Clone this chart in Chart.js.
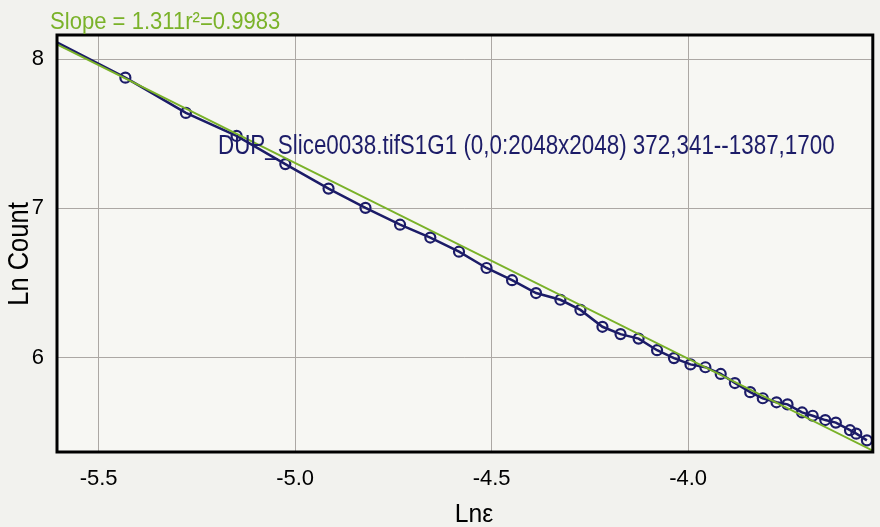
<!DOCTYPE html>
<html>
<head>
<meta charset="utf-8">
<title>Ln Count vs Ln ε</title>
<script src="https://cdn.jsdelivr.net/npm/chart.js@4.4.1/dist/chart.umd.min.js"></script>
<style>
  html, body { margin: 0; padding: 0; background: #f2f2ee; }
  #wrap { width: 880px; height: 527px; }
</style>
</head>
<body>
<div id="wrap"><canvas id="plot" width="880" height="527"></canvas></div>
<script>
// Box-counting results: ln(box size) against ln(count)
const LN_EPS = [-5.620, -5.432, -5.278, -5.149, -5.025, -4.915, -4.821, -4.733, -4.656, -4.583,
                -4.513, -4.448, -4.387, -4.325, -4.274, -4.218, -4.172, -4.126, -4.079, -4.036,
                -3.994, -3.956, -3.917, -3.881, -3.842, -3.810, -3.775, -3.747, -3.710, -3.683,
                -3.651, -3.624, -3.588, -3.572, -3.545];
const LN_COUNT = [8.130, 7.875, 7.639, 7.485, 7.296, 7.132, 7.003, 6.890, 6.804, 6.709,
                  6.600, 6.518, 6.432, 6.387, 6.319, 6.206, 6.157, 6.127, 6.049, 5.996,
                  5.954, 5.935, 5.890, 5.829, 5.768, 5.727, 5.700, 5.686, 5.632, 5.610,
                  5.581, 5.564, 5.513, 5.490, 5.445];

// Axis ticks and visible ranges
const X_TICKS = [-5.5, -5.0, -4.5, -4.0];
const Y_TICKS = [6, 7, 8];
const X_RANGE = [-5.606, -3.530];
const Y_RANGE = [5.367, 8.161];

// Regression line
const FIT_SLOPE = -1.311;
const FIT_INTERCEPT = 0.748;
const R_SQUARED = 0.9983;

const SOURCE_LABEL = 'DUP_Slice0038.tifS1G1 (0,0:2048x2048) 372,341--1387,1700';
const X_TITLE = 'Lnε';
const Y_TITLE = 'Ln Count';

const SANS = '"Liberation Sans", Arial, sans-serif';
const NAVY = '#1c1c68';
const GREEN = '#7ab229';

const points = LN_EPS.map((x, i) => ({ x, y: LN_COUNT[i] }));
const fitLine = X_RANGE.map(x => ({ x, y: FIT_SLOPE * x + FIT_INTERCEPT }));

// Draw a string squeezed along its own direction (the labels use a condensed face)
function condensedText(ctx, text, x, y, size, squeeze, opts = {}) {
  ctx.save();
  ctx.translate(x, y);
  if (opts.rotate) ctx.rotate(opts.rotate);
  ctx.scale(squeeze, 1);
  ctx.font = size + 'px ' + SANS;
  ctx.fillStyle = opts.color || '#000';
  ctx.textAlign = opts.align || 'left';
  ctx.textBaseline = opts.baseline || 'alphabetic';
  ctx.fillText(text, 0, 0);
  ctx.restore();
}

const decor = {
  id: 'decor',
  beforeDraw(chart) {
    const { ctx, chartArea: a } = chart;
    ctx.save();
    ctx.fillStyle = '#f2f2ee';
    ctx.fillRect(0, 0, chart.width, chart.height);
    ctx.fillStyle = '#f7f7f3';
    ctx.fillRect(a.left, a.top, a.right - a.left, a.bottom - a.top);
    ctx.restore();
  },
  afterDatasetsDraw(chart) {
    const { ctx, chartArea: a } = chart;
    ctx.save();
    // frame around the plot
    ctx.strokeStyle = '#000';
    ctx.lineWidth = 3;
    ctx.strokeRect(a.left, a.top, a.right - a.left, a.bottom - a.top);
    ctx.restore();

    // source caption inside the plot
    condensedText(ctx, SOURCE_LABEL, 218, 154, 27, 0.83, { color: NAVY });

    // regression summary above the plot
    const summary = 'Slope = ' + Math.abs(FIT_SLOPE).toFixed(3) + 'r\u00B2=' + R_SQUARED.toFixed(4);
    condensedText(ctx, summary, 50, 29, 24, 0.92, { color: GREEN });

    // axis titles
    condensedText(ctx, X_TITLE, 474, 522, 26, 0.95, { align: 'center' });
    condensedText(ctx, Y_TITLE, 28, 254, 29, 0.88, { align: 'center', rotate: -Math.PI / 2 });
  }
};

new Chart(document.getElementById('plot'), {
  type: 'scatter',
  data: {
    datasets: [
      {
        label: 'fit',
        data: fitLine,
        showLine: true,
        borderColor: GREEN,
        borderWidth: 2,
        pointRadius: 0,
        clip: 0,
        order: 0
      },
      {
        label: 'data',
        data: points,
        showLine: true,
        borderColor: NAVY,
        borderWidth: 2.5,
        pointRadius: 5,
        pointBorderWidth: 2.2,
        pointBorderColor: NAVY,
        pointBackgroundColor: 'rgba(0,0,0,0)',
        tension: 0,
        clip: 0,
        order: 1
      }
    ]
  },
  options: {
    responsive: false,
    animation: false,
    devicePixelRatio: 1,
    layout: { padding: { top: 35, right: 3, left: 0, bottom: 0 } },
    plugins: { legend: { display: false }, tooltip: { enabled: false } },
    scales: {
      x: {
        type: 'linear',
        min: X_RANGE[0],
        max: X_RANGE[1],
        afterBuildTicks: s => { s.ticks = X_TICKS.map(v => ({ value: v })); },
        afterFit: s => { s.height = 75; },
        grid: { color: '#aca8a4', lineWidth: 1, drawTicks: false },
        border: { display: false },
        ticks: {
          padding: 14,
          color: '#000',
          font: { family: SANS, size: 22 },
          callback: v => Number(v).toFixed(1)
        }
      },
      y: {
        type: 'linear',
        min: Y_RANGE[0],
        max: Y_RANGE[1],
        afterBuildTicks: s => { s.ticks = Y_TICKS.map(v => ({ value: v })); },
        afterFit: s => { s.width = 57; },
        grid: { color: '#aca8a4', lineWidth: 1, drawTicks: false },
        border: { display: false },
        ticks: {
          padding: 13,
          color: '#000',
          font: { family: SANS, size: 22 },
          callback: v => String(v)
        }
      }
    }
  },
  plugins: [decor]
});
</script>
</body>
</html>
